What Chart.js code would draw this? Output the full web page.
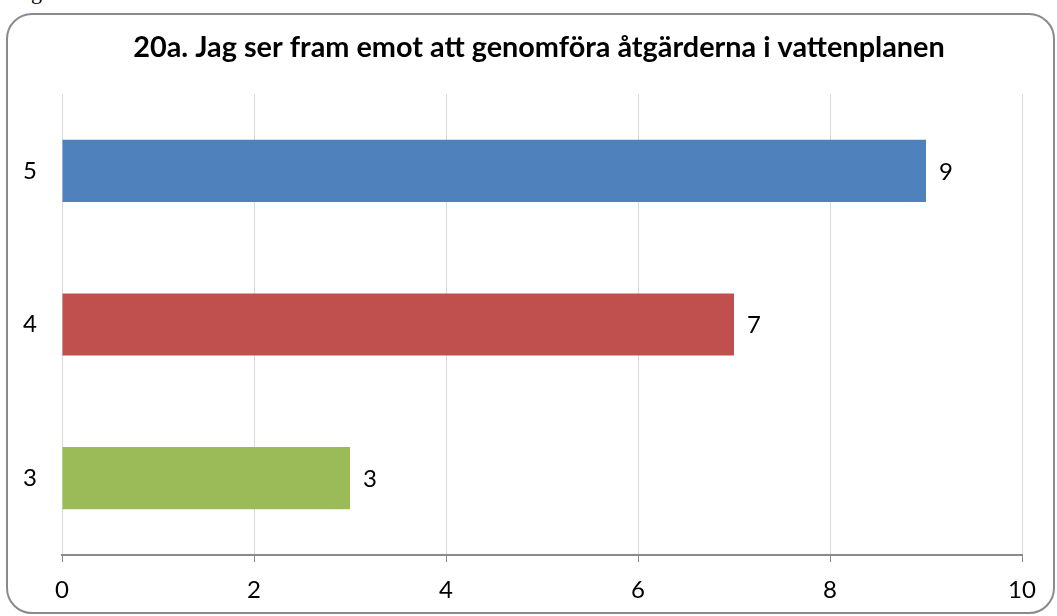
<!DOCTYPE html>
<html>
<head>
<meta charset="utf-8">
<script src="https://cdn.jsdelivr.net/npm/chart.js@4"></script>
<style>
  html, body { margin: 0; padding: 0; background: #fff; }
  #wrap { position: relative; width: 1057px; height: 616px; overflow: hidden; }
  #frame { position: absolute; left: 6px; top: 13px; width: 1045px; height: 597px;
           border: 2px solid #8a8a8a; border-radius: 26px; box-sizing: content-box; }
  #frag { position: absolute; left: 31px; top: -19px; font-family: "Liberation Serif", serif;
          font-size: 22px; line-height: 22px; color: #000; }
  canvas { position: absolute; left: 0; top: 0; }
</style>
</head>
<body>
<div id="wrap">
  <div id="frag">g</div>
  <div id="frame"></div>
  <canvas id="c" width="1057" height="616"></canvas>
</div>
<script>
const titleText = "20a. Jag ser fram emot att genomföra åtgärderna i vattenplanen";
const categories = ["5", "4", "3"];
const values = [9, 7, 3];
const barColors = ["#4F81BD", "#C0504D", "#9BBB59"];
const xTicks = [0, 2, 4, 6, 8, 10];

const FONT = "Lato, 'Open Sans', sans-serif";

const titlePlugin = {
  id: 'customTitle',
  afterDraw(chart) {
    const ctx = chart.ctx;
    ctx.save();
    ctx.font = `bold 24px ${FONT}`;
    const w = ctx.measureText(titleText).width;
    const size = 24 * 812 / w;
    ctx.font = `bold ${size}px ${FONT}`;
    ctx.fillStyle = '#000';
    ctx.textAlign = 'center';
    ctx.textBaseline = 'middle';
    ctx.fillText(titleText, 539, 48);
    ctx.restore();
  }
};

const labelPlugin = {
  id: 'valueLabels',
  afterDatasetsDraw(chart) {
    const ctx = chart.ctx;
    const meta = chart.getDatasetMeta(0);
    ctx.save();
    ctx.font = `24px ${FONT}`;
    ctx.fillStyle = '#000';
    ctx.textAlign = 'left';
    ctx.textBaseline = 'middle';
    meta.data.forEach((bar, i) => {
      ctx.fillText(String(values[i]), bar.x + 13, bar.y + 1);
    });
    ctx.restore();
  }
};

new Chart(document.getElementById('c'), {
  type: 'bar',
  data: {
    labels: categories,
    datasets: [{
      data: values,
      backgroundColor: barColors,
      borderWidth: 0,
      barPercentage: 0.405,
      categoryPercentage: 1.0
    }]
  },
  options: {
    indexAxis: 'y',
    responsive: false,
    animation: false,
    devicePixelRatio: 1,
    layout: { padding: { top: 94, right: 35, left: 0, bottom: 0 } },
    plugins: { legend: { display: false }, title: { display: false }, tooltip: { enabled: false } },
    scales: {
      x: {
        min: 0, max: 10,
        afterBuildTicks(scale) { scale.ticks = xTicks.map(v => ({ value: v })); },
        afterFit(scale) { scale.height = 61; },
        grid: { color: '#d9d9d9', lineWidth: 1, tickColor: '#8a8a8a', tickLength: 7, drawTicks: true },
        border: { display: true, color: '#8a8a8a', width: 2 },
        ticks: { color: '#000', font: { family: FONT, size: 24 }, padding: 14 }
      },
      y: {
        afterFit(scale) { scale.width = 62; },
        grid: { display: false, drawTicks: false },
        border: { display: false },
        ticks: { color: '#000', font: { family: FONT, size: 24 }, padding: 25 }
      }
    }
  },
  plugins: [titlePlugin, labelPlugin]
});
</script>
</body>
</html>
